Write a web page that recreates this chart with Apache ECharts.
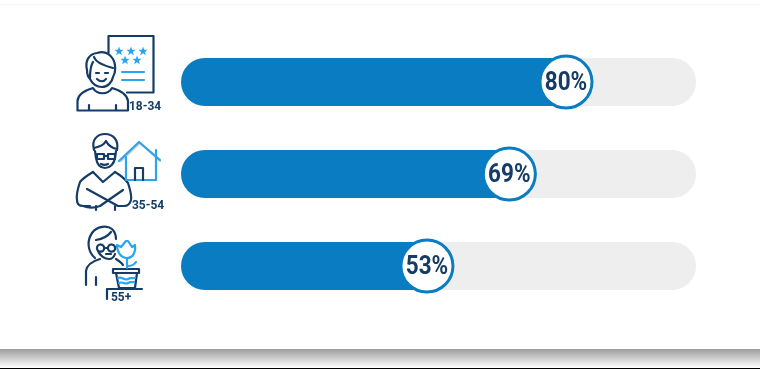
<!DOCTYPE html>
<html>
<head>
<meta charset="utf-8">
<style>
  html, body { margin: 0; padding: 0; background: #fff; }
  #chart { width: 760px; height: 369px; }
</style>
</head>
<body>
<div id="chart"></div>
<script src="https://cdn.jsdelivr.net/npm/echarts@6/dist/echarts.min.js"></script>
<script>
const categories = ['18-34', '35-54', '55+']
const percentValues = [80, 69, 53]

const navy = '#153c66'
const sky = '#2ba4ee'
const barBlue = '#0a7cc1'
const numberFont = '"Roboto", sans-serif'

// 线条图标
let shapeCount = 0
function line(d, color) {
  const name = 'iconLine' + shapeCount++
  echarts.graphic.registerShape(name, echarts.graphic.extendPath(d))
  return {
    type: name,
    style: { fill: null, stroke: color || navy, lineWidth: 2.2, lineCap: 'round', lineJoin: 'round' }
  }
}
function star(x, y) {
  return {
    type: 'polygon',
    shape: { points: [[x, y - 4.5], [x + 1.2, y - 1.2], [x + 4.5, y - 1.2], [x + 1.9, y + 0.9], [x + 2.9, y + 4.2], [x, y + 2.2], [x - 2.9, y + 4.2], [x - 1.9, y + 0.9], [x - 4.5, y - 1.2], [x - 1.2, y - 1.2]] },
    style: { fill: sky }
  }
}
function ageText(text, x, y) {
  return {
    type: 'text', x: x, y: y, scaleX: 0.92,
    style: { text: text, fill: navy, font: 'bold 13px ' + numberFont, textAlign: 'left', textVerticalAlign: 'middle' }
  }
}

const icon1 = [
  line('M108.5 53 L108.5 36 L153.5 36 L153.5 92.5 L127 92.5'),
  line('M122 72 L144 72', sky),
  line('M122 80 L144 80', sky),
  star(119, 51), star(131, 51), star(143, 51), star(125, 60), star(137, 60),
  line('M97 53 C88 54 85 62 87 70 C87 74 88 77 90 79 C93 85 98 87 102 87 C108 87 112 82 113 77 C116 72 116 64 113 59 C109 53 103 51 97 53 Z'),
  line('M94 57 C96 63 105 66 113 68'),
  line('M93 62 C90 67 90 72 90 78'),
  line('M96 73 L99 73 M105 73 L108 73'),
  line('M97 79 C100 82 104 82 106 79'),
  line('M77.5 110.5 L77.5 101 C78 94 86 90 93 88 C97 95 108 95 112 88 C119 90 127 94 128 101 L128 110.5 Z'),
  line('M89 105 L89 110 M116 105 L116 110')
]

const icon2 = [
  line('M94 150 C91 139 98 134 105 134 C113 134 119 140 117 150'),
  line('M94 148 C99 147 104 145 106 141 C108 145 112 148 117 149'),
  line('M95 151 L96 158 C97 164 100 168 105 168 C110 168 114 164 115 158 L116 151'),
  line('M97 154 L104 154 L104 159 L97 159 Z M108 154 L115 154 L115 159 L108 159 Z M104 156 L108 156'),
  line('M101 164 C103 165 106 165 108 164'),
  line('M93 172 L103 182 L115 172'),
  line('M93 172 C88 175 83 178 80 182 C78 188 76 195 77 200 C77 204 79 206 83 206 L90 206'),
  line('M115 172 C120 175 125 179 128 183 C130 189 132 195 131 200 C130 204 128 206 124 206 L118 206 L87 189'),
  line('M123 190 L100 206 C95 208 88 208 83 206'),
  line('M96 206 L96 210 M115 206 L115 210'),
  line('M121 161 L140 143 L160 161', '#d2d2d2'),
  line('M119 161 L139 142 L160 160', sky),
  line('M126 157 L126 180 L156 180 L156 150', sky),
  line('M135 180 L135 168 L143 168 L143 180')
]

const icon3 = [
  line('M95 258 C87 251 87 240 92 233 C97 226 107 225 112 229 C115 232 116 235 116 239'),
  line('M96 240 C102 239 108 236 111 232'),
  line('M98 251 C100 256 105 259 109 259 C112 259 114 257 115 254'),
  line('M100.5 244.5 A3.6 3.6 0 1 0 100.6 244.5 M111.5 244.5 A3.6 3.6 0 1 0 111.6 244.5'),
  line('M105 248 L108 248'),
  line('M106 254 L111 254'),
  line('M86 285 L86 271 C87 264 93 261 100 259'),
  line('M116 259 C119 261 122 263 123 265'),
  line('M96 277 L96 285'),
  line('M113 269 L139 269 L139 273 L113 273 Z'),
  line('M116 273 L119 288 L135 288 L137 273'),
  line('M118 278 C122 276 124 281 128 279 C131 277 133 279 135 278', sky),
  line('M119 283 C123 281 125 285 128 283 C131 281 132 283 134 282', sky),
  line('M127 258 C121 258 117 252 117 245 L121 247 L126 241 L128 241 L132 247 L135 245 C136 252 133 258 127 258 Z', sky),
  line('M127 258 L127 268 M128 266 C131 266 134 265 136 262', sky),
  line('M107 289 L142 289 M107 289 L107 299')
]

const chrome = [
  { type: 'rect', shape: { x: 0, y: 4, width: 760, height: 1 }, style: { fill: '#f6f6f6' } },
  {
    type: 'rect',
    shape: { x: 0, y: 349, width: 760, height: 19 },
    style: {
      fill: { type: 'linear', x: 0, y: 0, x2: 0, y2: 1, colorStops: [{ offset: 0, color: '#9c9c9c' }, { offset: 1, color: '#ffffff' }] }
    }
  },
  { type: 'rect', shape: { x: 0, y: 368, width: 760, height: 1 }, style: { fill: '#000000' } }
]

const ageLabels = [
  ageText(categories[0], 129, 107),
  ageText(categories[1], 132, 206),
  ageText(categories[2], 111, 298)
]

const chart = echarts.init(document.getElementById('chart'))
const option = {
  animation: false,
  backgroundColor: '#ffffff',
  grid: { left: 181, top: 36, width: 515, height: 276 },
  xAxis: { type: 'value', min: 0, max: 100, show: false },
  yAxis: { type: 'category', data: categories, inverse: true, show: false },
  graphic: { elements: chrome.concat(icon1, icon2, icon3, ageLabels) },
  series: [
    {
      type: 'bar',
      data: percentValues,
      barWidth: 48,
      showBackground: true,
      backgroundStyle: { color: '#eeeeee', borderRadius: 24 },
      itemStyle: { color: barBlue, borderRadius: 24 },
      silent: true
    },
    {
      // 进度条末端的圆形
      type: 'scatter',
      data: percentValues.map((v, i) => [v, categories[i]]),
      symbol: 'circle',
      symbolSize: 52,
      symbolOffset: [-27, 0],
      itemStyle: { color: '#ffffff', borderColor: barBlue, borderWidth: 3, opacity: 1 },
      z: 5,
      silent: true
    },
    {
      // 百分比文字，横向压缩成窄体
      type: 'custom',
      coordinateSystem: 'cartesian2d',
      data: percentValues.map((v, i) => [v, i]),
      encode: { x: 0, y: 1 },
      renderItem: (params, api) => {
        const pos = api.coord([api.value(0), categories[api.value(1)]])
        return {
          type: 'text',
          x: pos[0] - 27,
          y: pos[1] + 2,
          scaleX: 0.9,
          style: {
            text: api.value(0) + '%',
            fill: navy,
            font: 'bold 25px ' + numberFont,
            textAlign: 'center',
            textVerticalAlign: 'middle'
          }
        }
      },
      z: 6,
      silent: true
    }
  ]
}
chart.setOption(option)
</script>
</body>
</html>
